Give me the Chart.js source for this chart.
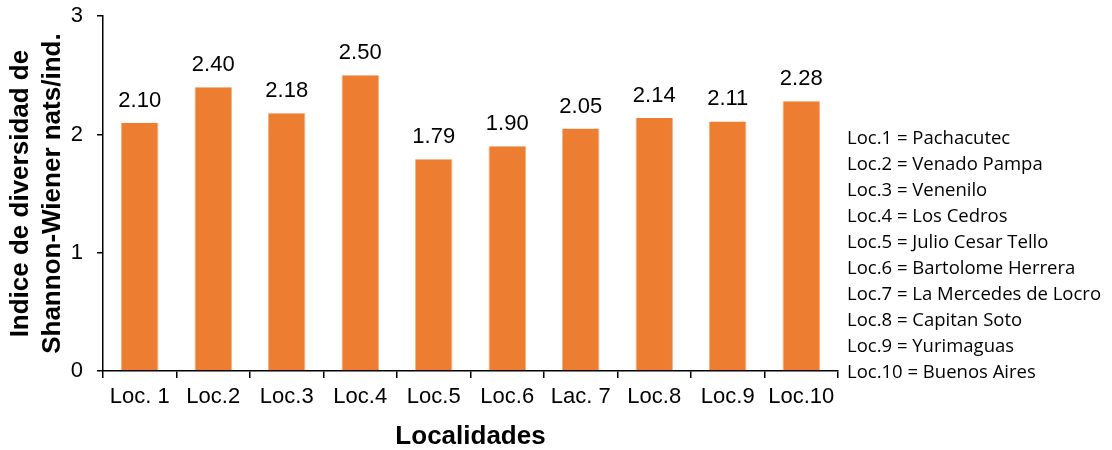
<!DOCTYPE html>
<html>
<head>
<meta charset="utf-8">
<script src="https://cdn.jsdelivr.net/npm/chart.js@4.4.4/dist/chart.umd.min.js"></script>
<style>
  html, body { margin: 0; padding: 0; background: #fff; overflow: hidden; }
  #wrap { position: relative; width: 1112px; height: 450px; overflow: hidden; }
  #chart { position: absolute; left: 0; top: -11px; }
  #notes {
    position: absolute; left: 847px; top: 124px;
    font-family: "Open Sans", Lato, sans-serif; font-size: 18.5px;
    line-height: 26px; color: #000; white-space: nowrap;
  }
</style>
</head>
<body>
<div id="wrap">
  <canvas id="chart" width="1112" height="461"></canvas>
  <div id="notes"></div>
</div>
<script>
const categories = ["Loc. 1", "Loc.2", "Loc.3", "Loc.4", "Loc.5", "Loc.6", "Lac. 7", "Loc.8", "Loc.9", "Loc.10"]
const diversity = [2.10, 2.40, 2.18, 2.50, 1.79, 1.90, 2.05, 2.14, 2.11, 2.28]
const yTicks = [0, 1, 2, 3]
const localityNames = [
    "Loc.1 = Pachacutec",
    "Loc.2 = Venado Pampa",
    "Loc.3 = Venenilo",
    "Loc.4 = Los Cedros",
    "Loc.5 = Julio Cesar Tello",
    "Loc.6 = Bartolome Herrera",
    "Loc.7 = La Mercedes de Locro",
    "Loc.8 = Capitan Soto",
    "Loc.9 = Yurimaguas",
    "Loc.10 = Buenos Aires"
]

document.getElementById("notes").innerHTML = localityNames.map(n => "<div>" + n + "</div>").join("")

const font = "'Liberation Sans', Arial, sans-serif"

// values on top of the bars
const barLabels = {
    id: "barLabels",
    afterDatasetsDraw(chart) {
        const ctx = chart.ctx
        const meta = chart.getDatasetMeta(0)
        ctx.save()
        ctx.font = "22px " + font
        ctx.fillStyle = "#000"
        ctx.textAlign = "center"
        ctx.textBaseline = "alphabetic"
        meta.data.forEach((bar, i) => {
            ctx.fillText(diversity[i].toFixed(2), bar.x, bar.y - 16)
        })
        ctx.restore()
    }
}

new Chart(document.getElementById("chart"), {
    type: "bar",
    data: {
        labels: categories,
        datasets: [{
            data: diversity,
            backgroundColor: "#ED7D31",
            borderColor: "#F4B183",
            borderWidth: { left: 1, right: 1, top: 0, bottom: 0 },
            barPercentage: 0.51,
            categoryPercentage: 1
        }]
    },
    options: {
        responsive: false,
        animation: false,
        events: [],
        layout: { padding: { top: 6, right: 274, left: 0, bottom: 0 } },
        plugins: {
            legend: { display: false },
            tooltip: { enabled: false }
        },
        scales: {
            x: {
                grid: { drawOnChartArea: false, color: "#000", tickLength: 7, lineWidth: 1.5, offset: true },
                border: { color: "#000", width: 1.5 },
                ticks: { color: "#000", font: { family: font, size: 22 }, padding: 6, maxRotation: 0, autoSkip: false },
                title: {
                    display: true, text: "Localidades", color: "#000",
                    font: { family: font, size: 26, weight: "bold", lineHeight: 1 }, padding: { top: 0, bottom: 0 }
                },
                afterFit(scale) { scale.height = 79 }
            },
            y: {
                min: 0, max: 3,
                afterBuildTicks(scale) { scale.ticks = yTicks.map(v => ({ value: v })) },
                grid: { drawOnChartArea: false, color: "#000", tickLength: 6, lineWidth: 1.5 },
                border: { color: "#000", width: 1.5 },
                ticks: { color: "#000", font: { family: font, size: 22 }, padding: 14 },
                title: {
                    display: true, text: ["Indice de diversidad de", "Shannon-Wiener nats/ind."], color: "#000",
                    font: { family: font, size: 26, weight: "bold", lineHeight: 1.22 }, padding: { top: 5, bottom: 0 }
                },
                afterFit(scale) { scale.width = 103 }
            }
        }
    },
    plugins: [barLabels]
})
</script>
</body>
</html>
